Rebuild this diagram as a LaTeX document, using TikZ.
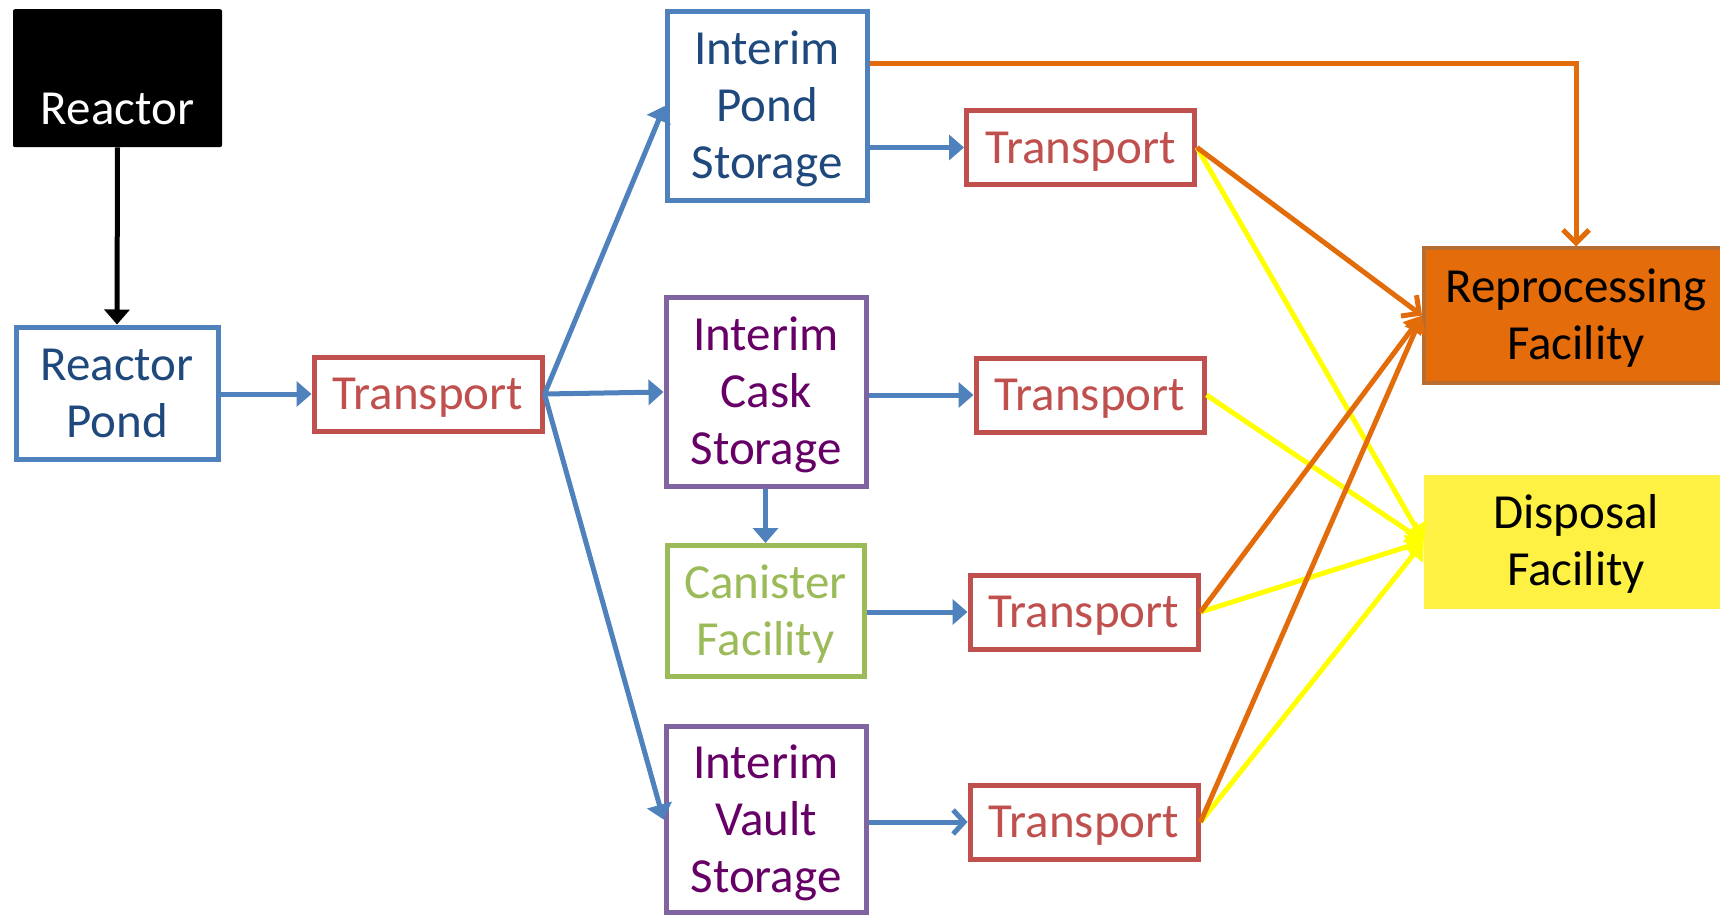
\documentclass[tikz,border=0pt]{standalone}
\usepackage{fontspec}
\setmainfont{Carlito}
\usetikzlibrary{arrows.meta}

\definecolor{lineblue}{HTML}{4F81BD}
\definecolor{textblue}{HTML}{1F497D}
\definecolor{boxred}{HTML}{C0504D}
\definecolor{boxpurple}{HTML}{8064A2}
\definecolor{textpurple}{HTML}{660066}
\definecolor{boxgreen}{HTML}{9BBB59}
\definecolor{fillorange}{HTML}{E46C0A}
\definecolor{edgeorange}{HTML}{B66D31}
\definecolor{lineorange}{HTML}{E36C0A}
\definecolor{fillyellow}{HTML}{FFF144}
\definecolor{lineyellow}{HTML}{FFFF00}

% centred lines of text, set a little below the middle of their box
\newcommand{\boxlines}[1]{\raisebox{0pt}[\dimexpr\height+9pt\relax][\depth]{\begin{tabular}{@{}c@{}}#1\end{tabular}}}

\begin{document}
\begin{tikzpicture}[x=1pt, y=-1pt,
  label font/.style={font=\fontsize{49}{57}\selectfont},
  framed/.style={label font, draw, line width=5pt, inner sep=0pt, fill=white},
  pondbox/.style={framed, draw=lineblue, text=textblue},
  transbox/.style={framed, draw=boxred, text=boxred, minimum width=228pt, minimum height=74pt},
  storebox/.style={framed, draw=boxpurple, text=textpurple, minimum width=200pt, minimum height=189pt},
  canbox/.style={framed, draw=boxgreen, text=boxgreen},
  facility/.style={label font, inner sep=0pt, minimum width=304pt, minimum height=134pt, text=black},
  flow/.style={draw=lineblue, line width=5pt, -{Triangle[length=15pt, width=25pt]}},
  flowopen/.style={draw=lineblue, line width=5pt, -{Straight Barb[length=11pt, width=24pt]}},
  toreproc/.style={draw=lineorange, line width=5pt},
  todisp/.style={draw=lineyellow, line width=5pt, -{Triangle[length=17pt, width=24pt]}},
]
\useasboundingbox (0,0) rectangle (1720,917);
\fill[white] (0,0) rectangle (1720,917);

% source
\node[label font, fill=black, text=white, rounded corners=2pt, inner sep=0pt,
      minimum width=209pt, text height=115pt, text depth=23pt, anchor=north]
      (reactor) at (117.5,9) {Reactor};
\node[pondbox, minimum width=202pt, minimum height=132pt] (pond) at (117,393) {\boxlines{Reactor\\Pond}};
\node[transbox] (t1) at (428,394) {\boxlines{Transport}};

% interim storage column
\node[storebox, draw=lineblue, text=textblue] (ips) at (767,106) {\boxlines{Interim\\Pond\\Storage}};
\node[storebox] (ics) at (766,392) {\boxlines{Interim\\Cask\\Storage}};
\node[canbox, minimum width=197pt, minimum height=131pt] (can) at (765.5,611) {\boxlines{Canister\\Facility}};
\node[storebox, minimum height=186pt] (ivs) at (766,819.5) {\boxlines{Interim\\Vault\\Storage}};

% second transport column
\node[transbox] (t2) at (1080.5,147.5) {\boxlines{Transport}};
\node[transbox] (t3) at (1090,395) {\boxlines{Transport}};
\node[transbox] (t4) at (1084,612) {\boxlines{Transport}};
\node[transbox] (t5) at (1084,822) {\boxlines{Transport}};

% end points
\node[facility, fill=fillorange, draw=edgeorange, line width=4pt] (rep) at (1576,315.5) {\boxlines{Reprocessing\\Facility}};
\node[facility, fill=fillyellow] (disp) at (1576,541.5) {\boxlines{Disposal\\Facility}};

% reactor to pond
\draw[line width=5pt, -{Triangle[length=15pt, width=25pt]}] (reactor.south) -- (pond.north);

% blue flows
\draw[flow] (pond.east |- t1.west) -- (t1.west);
\draw[flow] (t1.east) -- (ips.west);
\draw[flow] (t1.east) -- (ics.west);
\draw[flow] (t1.east) -- (ivs.west);
\draw[flow] (ips.east |- t2.west) -- (t2.west);
\draw[flow] (ics.east |- t3.west) -- (t3.west);
\draw[flow] (ics.south -| can.north) -- (can.north);
\draw[flow] (can.east |- t4.west) -- (t4.west);
\draw[flowopen] (ivs.east |- t5.west) -- (t5.west);

% yellow flows to disposal
\draw[todisp] (t2.east) -- (disp.west);
\draw[todisp] (t3.east) -- (disp.west);
\draw[todisp] (t4.east) -- (disp.west);
\draw[todisp] (t5.east) -- (disp.west);

% orange flows to reprocessing
\coordinate (toprow) at (0,63.5);
\draw[toreproc, -{Straight Barb[length=13pt, width=26pt]}] (ips.east |- toprow) -| (rep.north);
\draw[toreproc, -{Straight Barb[length=13pt, width=26pt]}] (t2.east) -- (rep.west);
\draw[toreproc, -{Triangle[length=17pt, width=22pt]}] (t4.east) -- (rep.west);
\draw[toreproc, -{Triangle[length=17pt, width=22pt]}] (t5.east) -- (rep.west);
\end{tikzpicture}
\end{document}
